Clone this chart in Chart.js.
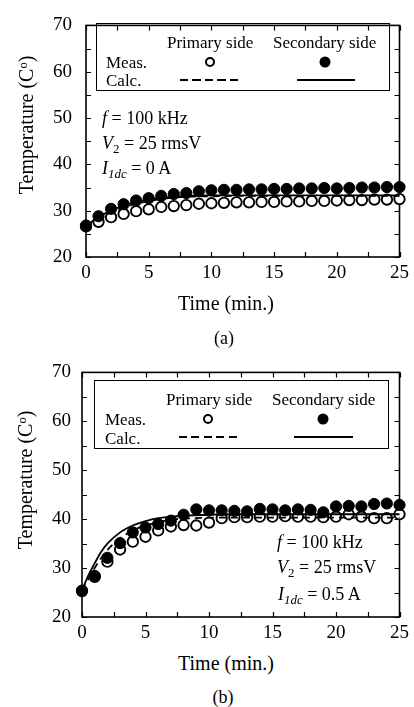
<!DOCTYPE html>
<html>
<head>
<meta charset="utf-8">
<script src="https://cdn.jsdelivr.net/npm/chart.js@4"></script>
<style>
  html, body { margin: 0; padding: 0; background: #fff; }
  #wrap { position: relative; width: 414px; height: 707px; overflow: hidden; font-family: "Liberation Serif", "Times New Roman", serif; color: #000; }
  canvas { position: absolute; left: 0; }
  .t { position: absolute; white-space: nowrap; line-height: 1; transform: translateY(-50%); }
  .c { position: absolute; white-space: nowrap; line-height: 1; transform: translate(-50%, -50%); }
  .r { position: absolute; white-space: nowrap; line-height: 1; transform: translate(-50%, -50%) rotate(-90deg); }
  .box { position: absolute; border: 1.5px solid #000; box-sizing: border-box; }
  .oc { position: absolute; width: 10px; height: 10px; border: 2px solid #000; border-radius: 50%; box-sizing: border-box; transform: translate(-50%, -50%); background: #fff; }
  .fc { position: absolute; width: 11px; height: 11px; border-radius: 50%; background: #000; transform: translate(-50%, -50%); }
  .dl { position: absolute; height: 2px; transform: translateY(-50%); background: repeating-linear-gradient(to right, #000 0 8px, transparent 8px 12.5px); }
  .sl { position: absolute; height: 2px; transform: translateY(-50%); background: #000; }
  sub.s { font-size: 0.72em; vertical-align: baseline; position: relative; top: 0.32em; }
  sup.o { font-size: 0.62em; vertical-align: baseline; position: relative; top: -0.45em; }
  i { font-style: italic; }
</style>
</head>
<body>
<div id="wrap">
  <canvas id="ca" width="414" height="295" style="top:0;width:414px;height:295px"></canvas>
  <canvas id="cb" width="414" height="300" style="top:350px;width:414px;height:300px"></canvas>

  <!-- chart (a) texts -->
  <div class="r" style="left:26px;top:125px;font-size:20px">Temperature (C<sup class="o">o</sup>)</div>
  <div class="c" style="left:226px;top:303px;font-size:20px">Time (min.)</div>
  <div class="c" style="left:224px;top:338px;font-size:18px">(a)</div>
  <div class="box" style="left:96px;top:23px;width:294px;height:68px"></div>
  <div class="t" style="left:167px;top:42px;font-size:17px">Primary side</div>
  <div class="t" style="left:273px;top:42px;font-size:17px">Secondary side</div>
  <div class="t" style="left:106px;top:62px;font-size:17px">Meas.</div>
  <div class="t" style="left:106px;top:80px;font-size:17px">Calc.</div>
  <div class="oc" style="left:210px;top:62px"></div>
  <div class="fc" style="left:325px;top:62px"></div>
  <div class="dl" style="left:180px;top:80px;width:60px"></div>
  <div class="sl" style="left:297px;top:80px;width:58px"></div>
  <div class="t" style="left:102px;top:118px;font-size:18px"><i>f</i> = 100 kHz</div>
  <div class="t" style="left:102px;top:143px;font-size:18px"><i>V</i><sub class="s">2</sub> = 25 rmsV</div>
  <div class="t" style="left:102px;top:168px;font-size:18px"><i>I</i><sub class="s"><i>1dc</i></sub> = 0 A</div>

  <!-- chart (b) texts -->
  <div class="r" style="left:25px;top:480px;font-size:20px">Temperature (C<sup class="o">o</sup>)</div>
  <div class="c" style="left:226px;top:663px;font-size:20px">Time (min.)</div>
  <div class="c" style="left:223px;top:697px;font-size:18px">(b)</div>
  <div class="box" style="left:94px;top:380px;width:295px;height:69px"></div>
  <div class="t" style="left:166px;top:399px;font-size:17px">Primary side</div>
  <div class="t" style="left:272px;top:399px;font-size:17px">Secondary side</div>
  <div class="t" style="left:105px;top:419px;font-size:17px">Meas.</div>
  <div class="t" style="left:105px;top:438px;font-size:17px">Calc.</div>
  <div class="oc" style="left:208px;top:419px"></div>
  <div class="fc" style="left:323px;top:419px"></div>
  <div class="dl" style="left:179px;top:437px;width:60px"></div>
  <div class="sl" style="left:294px;top:437px;width:59px"></div>
  <div class="t" style="left:277px;top:542px;font-size:18px"><i>f</i> = 100 kHz</div>
  <div class="t" style="left:277px;top:567px;font-size:18px"><i>V</i><sub class="s">2</sub> = 25 rmsV</div>
  <div class="t" style="left:278px;top:594px;font-size:18px"><i>I</i><sub class="s"><i>1dc</i></sub> = 0.5 A</div>
</div>

<script>
// ---- data ----
const time = [0,1,2,3,4,5,6,7,8,9,10,11,12,13,14,15,16,17,18,19,20,21,22,23,24,25];

// (a) I1dc = 0 A
const measPrimA = [26.6,27.6,28.6,29.3,29.9,30.3,30.8,31.0,31.2,31.5,31.6,31.7,31.8,31.8,31.9,31.9,32.0,32.0,32.1,32.1,32.2,32.3,32.3,32.4,32.4,32.5];
const measSecA  = [26.8,28.8,30.4,31.4,32.2,32.7,33.2,33.6,33.8,34.2,34.4,34.5,34.5,34.6,34.6,34.7,34.7,34.8,34.8,34.9,34.8,34.9,35.0,35.0,35.1,35.1];

// (b) I1dc = 0.5 A
const measPrimB = [25.3,28.2,31.3,33.8,35.4,36.4,37.7,38.5,38.8,38.7,39.3,40.2,40.4,40.4,40.5,40.5,40.6,40.5,40.5,40.4,40.5,41.0,40.5,40.2,40.2,41.0];
const measSecB  = [25.4,28.4,32.1,35.1,37.3,38.3,39.0,39.7,40.9,42.0,41.8,41.8,41.7,41.6,42.1,42.0,41.8,42.0,41.9,41.4,42.6,42.7,42.6,43.1,43.2,42.9];

// calculated curves
const calcTime  = [0,0.5,1,1.5,2,3,4,5,6,7,8,10,12,15,20,25];
const calcPrimA = [26.8,27.6,28.3,29.0,29.6,30.7,31.5,32.1,32.5,32.8,33.0,33.1,33.2,33.2,33.2,33.2];
const calcSecA  = [26.8,27.7,28.6,29.4,30.0,31.1,31.9,32.4,32.8,33.0,33.2,33.3,33.3,33.3,33.3,33.3];
const calcPrimB = [25.4,27.8,30.0,32.0,33.7,36.1,37.7,38.7,39.4,39.9,40.1,40.3,40.3,40.3,40.3,40.3];
const calcSecB  = [25.4,28.5,31.0,33.3,35.0,37.3,38.7,39.6,40.2,40.5,40.7,40.9,41.0,41.0,41.0,41.0];

const yTicks = [20,30,40,50,60,70];
const xTicks = [0,5,10,15,20,25];

// ---- helpers ----
const FONT = '"Liberation Serif", "Times New Roman", serif';
const pts = (xs, ys) => xs.map((x, i) => ({x, y: ys[i]}));

const frameTicks = {
  id: 'frameTicks',
  beforeDatasetsDraw(chart) {
    const {ctx, chartArea: a} = chart;
    const x = chart.scales.x, y = chart.scales.y;
    ctx.save();
    ctx.strokeStyle = '#000';
    ctx.lineWidth = 1.6;
    ctx.strokeRect(a.left, a.top, a.right - a.left, a.bottom - a.top);
    ctx.lineWidth = 1.2;
    const L = 5;
    ctx.beginPath();
    x.ticks.forEach(t => {
      const px = Math.round(x.getPixelForValue(t.value)) + 0.5;
      ctx.moveTo(px, a.bottom); ctx.lineTo(px, a.bottom - L);
      ctx.moveTo(px, a.top); ctx.lineTo(px, a.top + L);
    });
    y.ticks.forEach(t => {
      const py = Math.round(y.getPixelForValue(t.value)) + 0.5;
      ctx.moveTo(a.left, py); ctx.lineTo(a.left + L, py);
      ctx.moveTo(a.right, py); ctx.lineTo(a.right - L, py);
    });
    ctx.stroke();
    ctx.restore();
  }
};

function makeChart(id, cfg) {
  const datasets = [
    { type: 'line', data: pts(calcTime, cfg.calcSec), borderColor: '#000', borderWidth: 1.8, pointRadius: 0, cubicInterpolationMode: 'monotone', fill: false, clip: false },
    { type: 'line', data: pts(calcTime, cfg.calcPrim), borderColor: '#000', borderWidth: 1.8, borderDash: [7, 5], pointRadius: 0, cubicInterpolationMode: 'monotone', fill: false, clip: false },
    { type: 'line', data: pts(time, cfg.measSec), showLine: false, pointRadius: 5.6, pointBorderWidth: 1, pointBackgroundColor: '#000', pointBorderColor: '#000', clip: false },
    { type: 'line', data: pts(time, cfg.measPrim), showLine: false, pointRadius: 5.2, pointBorderWidth: 1.9, pointBackgroundColor: '#fff', pointBorderColor: '#000', clip: false }
  ];
  return new Chart(document.getElementById(id), {
    type: 'line',
    data: { datasets },
    plugins: [frameTicks],
    options: {
      responsive: false,
      animation: false,
      devicePixelRatio: 1,
      layout: { padding: { top: cfg.top, right: cfg.right, left: 0, bottom: 0 } },
      plugins: { legend: { display: false }, tooltip: { enabled: false } },
      scales: {
        x: {
          type: 'linear', min: 0, max: 25,
          afterFit: s => { s.height = cfg.xh; },
          afterBuildTicks: s => { s.ticks = [0,2.5,5,7.5,10,12.5,15,17.5,20,22.5,25].map(v => ({value: v})); },
          ticks: { autoSkip: false, maxRotation: 0, padding: 5, color: '#000', font: { family: FONT, size: 19 },
                   callback: v => xTicks.includes(v) ? String(v) : '' },
          grid: { display: false, drawTicks: false },
          border: { display: false }
        },
        y: {
          type: 'linear', min: 20, max: 70,
          afterFit: s => { s.width = cfg.yw; },
          afterBuildTicks: s => { s.ticks = [20,25,30,35,40,45,50,55,60,65,70].map(v => ({value: v})); },
          ticks: { autoSkip: false, padding: cfg.ypad, color: '#000', font: { family: FONT, size: 19 },
                   callback: v => yTicks.includes(v) ? String(v) : '' },
          grid: { display: false, drawTicks: false },
          border: { display: false }
        }
      }
    }
  });
}

makeChart('ca', { measPrim: measPrimA, measSec: measSecA, calcPrim: calcPrimA, calcSec: calcSecA, top: 14, right: 11, yw: 86, xh: 38, ypad: 14 });
makeChart('cb', { measPrim: measPrimB, measSec: measSecB, calcPrim: calcPrimB, calcSec: calcSecB, top: 18, right: 12, yw: 82, xh: 33, ypad: 11 });
</script>
</body>
</html>
